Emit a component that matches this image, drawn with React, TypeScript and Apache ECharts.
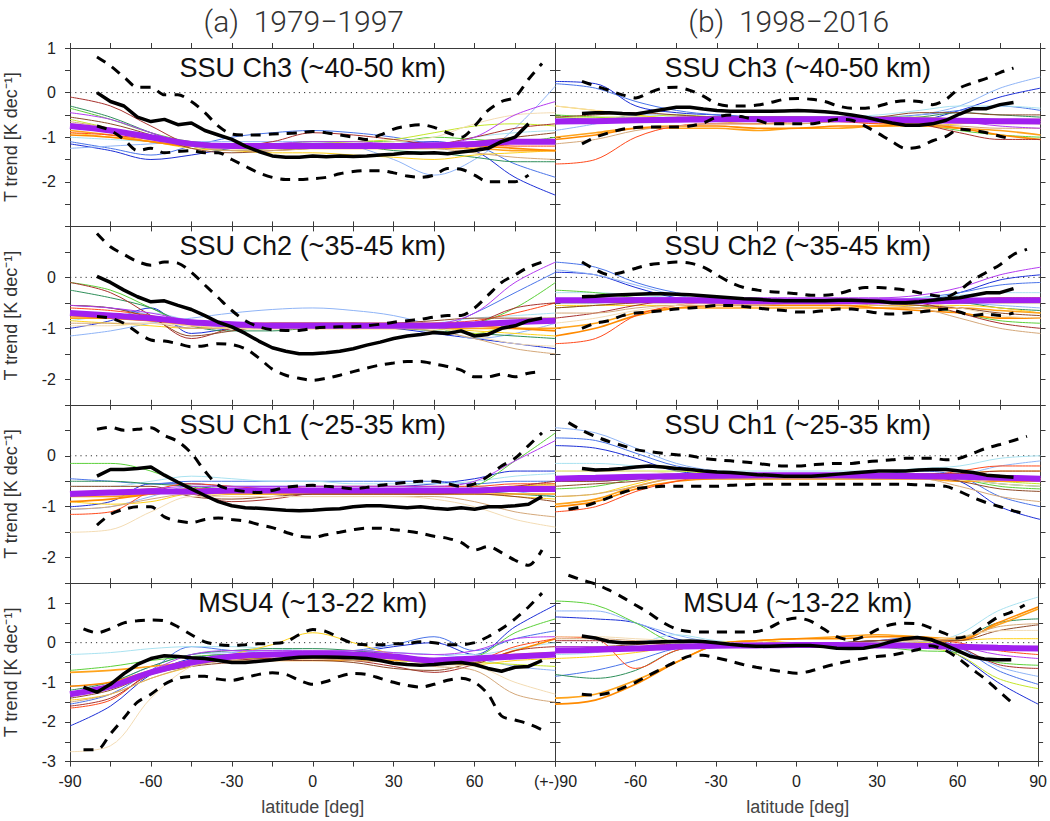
import React, { useEffect, useRef } from 'react';
import * as echarts from 'echarts';

// ---------------- DATA ----------------
const LAT_MODEL = [-90, -75, -60, -45, -30, -15, 0, 15, 30, 45, 60, 75, 90];
const LAT_OBS = [-85, -80, -75, -70, -65, -60, -55, -50, -45, -40, -35, -30, -25, -20, -15, -10, -5, 0, 5, 10, 15, 20, 25, 30, 35, 40, 45, 50, 55, 60, 65, 70, 75, 80, 85];
const X_TICKS = [-90, -60, -30, 0, 30, 60, 90];

const MODEL_COLORS = ['#1c2fd6', '#4a74e8', '#8fb4f6', '#a9e2f0', '#5cd03a', '#2f8f5a', '#c4e62a', '#ffd21a', '#ffa31a', '#ff8a00', '#ff4a1c', '#a8322e', '#8e4a2a', '#d4a87a', '#f3dcb4', '#b43cf0'];
const MODEL_WIDTHS = [1, 1, 1, 1, 1, 1, 1, 1, 1.6, 1.6, 1, 1, 1, 1, 1, 1];

const ROW_TITLES = ['SSU Ch3 (~40-50 km)', 'SSU Ch2 (~35-45 km)', 'SSU Ch1 (~25-35 km)', 'MSU4 (~13-22 km)'];
const ROW_MIN = [-3, -2.5, -2.5, -3];
const ROW_MAX = [1, 1, 1, 1.5];
const COL_TITLES = ['(a)  1979\u22121997', '(b)  1998\u22122016'];

// Panel 1: SSU Ch3, 1979-1997
const P1_MODELS = [
  [-1.15, -1.3, -1.5, -1.4, -1.25, -1.2, -1.2, -1.2, -1.15, -1.1, -1.3, -1.9, -2.3],
  [-1.1, -1.25, -1.4, -1.2, -1.0, -0.9, -0.85, -0.9, -1.0, -1.15, -1.2, -1.6, -1.9],
  [-1.25, -1.2, -1.15, -1.1, -1.1, -1.1, -1.1, -1.2, -1.5, -1.85, -1.5, -0.8, 0.15],
  [-1.0, -1.05, -1.1, -1.15, -1.2, -1.2, -1.25, -1.25, -1.25, -1.2, -1.0, -0.9, -0.85],
  [-0.35, -0.6, -0.9, -1.1, -1.15, -1.15, -1.1, -1.1, -1.1, -1.0, -1.05, -1.1, -1.0],
  [-0.3, -0.55, -0.9, -1.2, -1.3, -1.25, -1.2, -1.2, -1.3, -1.35, -1.45, -1.55, -1.55],
  [-0.6, -0.8, -1.0, -1.2, -1.25, -1.2, -1.15, -1.1, -1.05, -0.9, -0.75, -0.7, -0.75],
  [-0.9, -1.0, -1.1, -1.25, -1.3, -1.35, -1.35, -1.4, -1.45, -1.5, -1.4, -1.35, -1.3],
  [-0.85, -0.95, -1.1, -1.2, -1.25, -1.25, -1.25, -1.25, -1.25, -1.25, -1.25, -1.3, -1.3],
  [-0.95, -1.0, -1.1, -1.2, -1.2, -1.2, -1.2, -1.2, -1.2, -1.2, -1.2, -1.25, -1.3],
  [-0.9, -0.95, -1.05, -1.15, -1.2, -1.2, -1.2, -1.15, -1.15, -1.15, -1.15, -1.2, -1.2],
  [-0.1, -0.3, -0.75, -1.15, -1.2, -1.1, -0.9, -0.95, -1.05, -1.15, -1.0, -0.8, -0.7],
  [-0.55, -0.7, -0.95, -1.25, -1.35, -1.3, -1.25, -1.2, -1.2, -1.2, -1.1, -1.0, -0.9],
  [-0.65, -0.8, -1.0, -1.2, -1.3, -1.3, -1.25, -1.2, -1.2, -1.25, -1.35, -1.45, -1.5],
  [-0.7, -0.8, -1.0, -1.2, -1.25, -1.25, -1.2, -1.15, -1.1, -1.0, -0.7, -0.5, -0.45],
  [-0.45, -0.6, -0.9, -1.15, -1.2, -1.15, -1.1, -1.1, -1.15, -1.15, -1.0, -0.5, -0.2],
];
const P1_MEAN = [-0.75, -0.85, -1.0, -1.15, -1.2, -1.2, -1.2, -1.2, -1.2, -1.18, -1.15, -1.1, -1.1];
const P1_OBS = [null, 0.0, -0.2, -0.3, -0.55, -0.65, -0.6, -0.72, -0.68, -0.85, -0.95, -1.05, -1.2, -1.32, -1.42, -1.45, -1.45, -1.42, -1.44, -1.42, -1.43, -1.42, -1.4, -1.38, -1.35, -1.36, -1.35, -1.37, -1.33, -1.3, -1.25, -1.1, -1.0, -0.7, null];
const P1_HI = [null, 0.8, 0.6, 0.35, 0.12, 0.12, -0.05, -0.05, -0.2, -0.45, -0.75, -0.93, -0.95, -0.95, -0.93, -0.92, -0.9, -0.87, -0.9, -0.95, -1.0, -1.05, -0.95, -0.82, -0.75, -0.72, -0.78, -0.9, -1.0, -0.75, -0.4, -0.2, -0.1, 0.3, 0.65];
const P1_LO = [null, -0.75, -0.85, -1.05, -1.3, -1.25, -1.35, -1.32, -1.3, -1.35, -1.35, -1.5, -1.65, -1.8, -1.9, -1.95, -1.95, -1.93, -1.9, -1.82, -1.77, -1.75, -1.75, -1.8, -1.87, -1.9, -1.85, -1.7, -1.72, -1.85, -2.0, -2.0, -2.0, -1.85, null];

// Panel 2: SSU Ch3, 1998-2016
const P2_MODELS = [
  [0.25, 0.2, -0.3, -0.45, -0.5, -0.55, -0.6, -0.6, -0.6, -0.6, -0.4, -0.1, 0.1],
  [0.2, 0.1, -0.2, -0.4, -0.5, -0.55, -0.55, -0.55, -0.55, -0.5, -0.4, -0.3, -0.4],
  [-0.85, -0.7, -0.5, -0.5, -0.6, -0.65, -0.65, -0.65, -0.6, -0.5, -0.3, 0.1, 0.35],
  [-0.6, -0.6, -0.55, -0.55, -0.55, -0.6, -0.6, -0.55, -0.5, -0.4, -0.3, -0.3, -0.35],
  [-0.5, -0.55, -0.6, -0.6, -0.6, -0.6, -0.6, -0.55, -0.6, -0.7, -0.85, -0.95, -1.0],
  [-0.55, -0.6, -0.6, -0.6, -0.6, -0.6, -0.6, -0.6, -0.6, -0.55, -0.45, -0.5, -0.55],
  [-0.55, -0.55, -0.55, -0.5, -0.55, -0.6, -0.6, -0.6, -0.55, -0.55, -0.6, -0.65, -0.7],
  [-0.3, -0.4, -0.5, -0.6, -0.65, -0.7, -0.7, -0.65, -0.7, -0.75, -0.7, -0.65, -0.65],
  [-1.0, -0.9, -0.8, -0.8, -0.8, -0.85, -0.8, -0.8, -0.75, -0.75, -0.8, -0.85, -0.95],
  [-1.05, -0.95, -0.8, -0.75, -0.75, -0.8, -0.8, -0.75, -0.75, -0.7, -0.8, -0.95, -1.05],
  [-1.6, -1.5, -1.0, -0.75, -0.7, -0.7, -0.65, -0.65, -0.7, -0.7, -0.6, -0.6, -0.6],
  [-0.7, -0.65, -0.6, -0.55, -0.55, -0.55, -0.55, -0.55, -0.6, -0.7, -0.9, -1.05, -1.05],
  [-0.55, -0.5, -0.45, -0.5, -0.55, -0.55, -0.55, -0.6, -0.55, -0.45, -0.45, -0.5, -0.5],
  [-1.15, -1.05, -0.85, -0.75, -0.7, -0.7, -0.7, -0.65, -0.65, -0.7, -0.75, -0.8, -0.8],
  [-0.3, -0.4, -0.55, -0.6, -0.6, -0.6, -0.6, -0.6, -0.6, -0.6, -0.65, -0.7, -0.7],
  [-0.6, -0.6, -0.6, -0.6, -0.6, -0.6, -0.6, -0.6, -0.6, -0.6, -0.65, -0.75, -0.8],
];
const P2_MEAN = [-0.65, -0.64, -0.62, -0.61, -0.6, -0.6, -0.6, -0.6, -0.61, -0.62, -0.63, -0.64, -0.65];
const P2_OBS = [null, -0.47, -0.45, -0.45, -0.47, -0.48, -0.43, -0.38, -0.33, -0.33, -0.37, -0.4, -0.42, -0.42, -0.42, -0.42, -0.41, -0.4, -0.41, -0.43, -0.46, -0.5, -0.55, -0.62, -0.68, -0.73, -0.73, -0.7, -0.62, -0.48, -0.36, -0.36, -0.27, -0.22, null];
const P2_HI = [null, 0.25, 0.15, 0.05, -0.05, -0.12, 0.0, 0.1, 0.12, 0.05, -0.08, -0.25, -0.3, -0.3, -0.28, -0.22, -0.15, -0.13, -0.15, -0.2, -0.3, -0.35, -0.35, -0.3, -0.22, -0.18, -0.2, -0.27, -0.15, 0.1, 0.22, 0.32, 0.45, 0.55, null];
const P2_LO = [null, -1.15, -1.0, -0.9, -0.82, -0.78, -0.77, -0.77, -0.77, -0.75, -0.68, -0.55, -0.5, -0.55, -0.62, -0.7, -0.7, -0.7, -0.7, -0.65, -0.6, -0.62, -0.75, -0.92, -1.1, -1.25, -1.22, -1.08, -0.98, -0.82, -0.85, -0.9, -0.98, -1.05, null];

// Panel 3: SSU Ch2, 1979-1997
const P3_MODELS = [
  [-1.0, -0.85, -0.6, -1.1, -1.0, -0.95, -0.95, -0.95, -1.0, -1.1, -1.2, -1.3, -1.4],
  [-0.55, -0.6, -0.75, -1.0, -0.95, -0.9, -0.9, -0.9, -0.95, -1.0, -0.7, -0.3, 0.1],
  [-1.15, -1.05, -0.9, -0.8, -0.7, -0.63, -0.6, -0.65, -0.75, -0.95, -1.2, -1.1, -0.9],
  [-0.85, -0.75, -0.7, -0.85, -0.95, -1.0, -1.0, -1.0, -0.95, -0.9, -0.8, -0.75, -0.7],
  [-0.1, -0.25, -0.6, -0.95, -1.0, -1.0, -0.95, -0.9, -0.9, -0.95, -0.9, -0.6, -0.1],
  [-0.25, -0.4, -0.6, -0.95, -1.05, -1.05, -1.0, -1.0, -1.0, -1.05, -1.1, -1.15, -1.2],
  [-0.7, -0.75, -0.8, -0.9, -0.95, -0.95, -0.95, -0.95, -0.95, -1.0, -1.1, -0.9, -0.8],
  [-0.85, -0.9, -0.95, -1.0, -1.0, -1.0, -1.0, -1.0, -1.0, -1.0, -1.05, -1.1, -1.15],
  [-0.8, -0.8, -0.85, -0.95, -1.0, -1.0, -1.0, -1.0, -1.0, -1.0, -1.0, -1.0, -1.0],
  [-0.75, -0.8, -0.85, -0.9, -0.9, -0.9, -0.9, -0.9, -0.9, -0.9, -0.95, -1.0, -1.05],
  [-0.6, -0.65, -0.75, -0.9, -0.95, -0.95, -0.95, -0.95, -0.95, -0.9, -0.85, -0.7, -0.5],
  [-0.1, -0.3, -0.75, -1.2, -1.0, -0.9, -0.9, -0.9, -0.95, -1.0, -0.9, -0.6, -0.5],
  [-0.55, -0.6, -0.8, -1.15, -1.05, -0.95, -0.95, -0.95, -0.9, -0.85, -0.8, -0.8, -0.8],
  [-0.9, -0.9, -0.9, -1.0, -1.0, -1.0, -1.0, -1.0, -1.0, -1.05, -1.2, -1.4, -1.5],
  [-0.95, -0.95, -0.9, -0.95, -1.0, -1.0, -1.0, -1.0, -1.0, -1.0, -1.15, -1.3, -1.35],
  [-0.55, -0.6, -0.7, -0.85, -0.9, -0.9, -0.9, -0.9, -0.9, -0.9, -0.7, -0.1, 0.3],
];
const P3_MEAN = [-0.7, -0.75, -0.8, -0.88, -0.92, -0.95, -0.95, -0.95, -0.95, -0.95, -0.92, -0.88, -0.85];
const P3_OBS = [null, 0.02, -0.1, -0.25, -0.38, -0.48, -0.46, -0.55, -0.63, -0.75, -0.88, -0.97, -1.1, -1.25, -1.38, -1.45, -1.5, -1.5, -1.48, -1.45, -1.4, -1.33, -1.27, -1.2, -1.15, -1.12, -1.08, -1.1, -1.05, -1.15, -1.12, -1.0, -0.95, -0.85, -0.8];
const P3_HI = [null, 0.86, 0.6, 0.45, 0.31, 0.24, 0.3, 0.28, 0.1, -0.15, -0.4, -0.65, -0.85, -0.97, -1.03, -1.04, -1.04, -1.0, -0.98, -0.97, -0.97, -0.95, -0.92, -0.88, -0.85, -0.82, -0.78, -0.75, -0.75, -0.6, -0.35, -0.1, 0.05, 0.2, 0.3];
const P3_LO = [null, -0.77, -0.8, -0.9, -1.08, -1.23, -1.25, -1.3, -1.36, -1.34, -1.3, -1.32, -1.4, -1.58, -1.8, -1.92, -1.98, -2.02, -1.98, -1.92, -1.85, -1.78, -1.72, -1.68, -1.65, -1.65, -1.7, -1.75, -1.82, -1.95, -1.95, -1.9, -1.95, -1.88, -1.85];

// Panel 4: SSU Ch2, 1998-2016
const P4_MODELS = [
  [0.1, 0.05, -0.2, -0.4, -0.45, -0.45, -0.45, -0.45, -0.45, -0.45, -0.3, -0.05, 0.05],
  [0.3, 0.2, -0.1, -0.3, -0.4, -0.45, -0.45, -0.45, -0.45, -0.4, -0.3, -0.15, -0.1],
  [0.15, 0.05, -0.15, -0.35, -0.45, -0.5, -0.5, -0.5, -0.5, -0.5, -0.5, -0.55, -0.6],
  [-0.3, -0.3, -0.35, -0.4, -0.45, -0.45, -0.45, -0.45, -0.45, -0.4, -0.35, -0.3, -0.3],
  [-0.25, -0.3, -0.4, -0.45, -0.5, -0.5, -0.5, -0.5, -0.5, -0.55, -0.7, -0.85, -0.9],
  [-0.5, -0.5, -0.45, -0.45, -0.45, -0.45, -0.45, -0.45, -0.45, -0.5, -0.5, -0.6, -0.65],
  [-0.6, -0.55, -0.5, -0.5, -0.5, -0.5, -0.5, -0.5, -0.5, -0.45, -0.45, -0.5, -0.5],
  [-0.55, -0.55, -0.55, -0.55, -0.55, -0.55, -0.55, -0.55, -0.55, -0.55, -0.55, -0.6, -0.7],
  [-1.0, -0.9, -0.7, -0.6, -0.6, -0.6, -0.6, -0.6, -0.6, -0.6, -0.6, -0.65, -0.7],
  [-1.15, -1.0, -0.75, -0.6, -0.55, -0.55, -0.55, -0.55, -0.6, -0.65, -0.7, -0.8, -0.8],
  [-1.3, -1.2, -0.75, -0.55, -0.5, -0.5, -0.5, -0.5, -0.5, -0.5, -0.45, -0.4, -0.4],
  [-0.8, -0.7, -0.55, -0.45, -0.45, -0.45, -0.45, -0.45, -0.45, -0.5, -0.7, -0.9, -1.0],
  [-0.6, -0.55, -0.5, -0.45, -0.45, -0.45, -0.45, -0.45, -0.5, -0.55, -0.6, -0.7, -0.75],
  [-0.7, -0.7, -0.6, -0.55, -0.55, -0.55, -0.5, -0.5, -0.55, -0.6, -0.8, -1.0, -1.1],
  [-0.9, -0.8, -0.65, -0.55, -0.5, -0.5, -0.5, -0.5, -0.5, -0.5, -0.6, -0.75, -0.8],
  [-0.5, -0.45, -0.4, -0.4, -0.4, -0.4, -0.4, -0.4, -0.4, -0.35, -0.2, 0.05, 0.2],
];
const P4_MEAN = [-0.45, -0.45, -0.45, -0.45, -0.46, -0.47, -0.47, -0.47, -0.47, -0.47, -0.46, -0.45, -0.45];
const P4_OBS = [null, -0.38, -0.37, -0.35, -0.34, -0.33, -0.32, -0.32, -0.33, -0.34, -0.36, -0.38, -0.4, -0.42, -0.43, -0.45, -0.46, -0.46, -0.46, -0.46, -0.45, -0.45, -0.46, -0.47, -0.5, -0.5, -0.48, -0.45, -0.42, -0.4, -0.35, -0.3, -0.3, -0.22, null];
const P4_HI = [null, 0.3, 0.15, 0.05, 0.1, 0.18, 0.25, 0.28, 0.3, 0.28, 0.2, 0.05, -0.1, -0.2, -0.25, -0.28, -0.3, -0.32, -0.35, -0.35, -0.32, -0.25, -0.2, -0.2, -0.22, -0.25, -0.3, -0.35, -0.38, -0.25, -0.05, 0.1, 0.25, 0.45, 0.55];
const P4_LO = [null, -1.0, -0.9, -0.85, -0.75, -0.7, -0.68, -0.65, -0.62, -0.6, -0.58, -0.55, -0.55, -0.57, -0.6, -0.63, -0.65, -0.68, -0.68, -0.65, -0.62, -0.62, -0.66, -0.7, -0.72, -0.7, -0.68, -0.65, -0.62, -0.68, -0.75, -0.72, -0.75, -0.7, null];

// Panel 5: SSU Ch1, 1979-1997
const P5_MODELS = [
  [-1.0, -0.9, -0.55, -0.55, -0.6, -0.6, -0.6, -0.6, -0.6, -0.55, -0.45, -0.3, -0.3],
  [-0.45, -0.5, -0.55, -0.5, -0.5, -0.5, -0.5, -0.5, -0.5, -0.5, -0.55, -0.5, -0.5],
  [-1.05, -1.0, -0.8, -0.6, -0.6, -0.65, -0.65, -0.65, -0.65, -0.6, -0.6, -0.7, -0.8],
  [-0.6, -0.6, -0.5, -0.4, -0.45, -0.5, -0.5, -0.55, -0.55, -0.55, -0.5, -0.4, -0.35],
  [-0.15, -0.15, -0.3, -0.6, -0.75, -0.75, -0.75, -0.75, -0.7, -0.7, -0.6, -0.1, 0.45],
  [-0.5, -0.5, -0.55, -0.6, -0.65, -0.65, -0.65, -0.7, -0.7, -0.7, -0.7, -0.75, -0.8],
  [-0.8, -0.8, -0.75, -0.7, -0.7, -0.7, -0.7, -0.7, -0.7, -0.7, -0.65, -0.6, -0.55],
  [-0.9, -0.95, -0.9, -0.75, -0.75, -0.75, -0.75, -0.75, -0.75, -0.75, -0.75, -0.8, -0.85],
  [-0.8, -0.8, -0.75, -0.7, -0.75, -0.75, -0.75, -0.75, -0.75, -0.75, -0.75, -0.75, -0.75],
  [-0.9, -0.85, -0.75, -0.65, -0.65, -0.65, -0.65, -0.65, -0.65, -0.65, -0.65, -0.6, -0.6],
  [-1.15, -1.1, -0.7, -0.55, -0.6, -0.65, -0.6, -0.6, -0.6, -0.6, -0.6, -0.55, -0.55],
  [-0.7, -0.7, -0.65, -0.75, -0.9, -0.85, -0.75, -0.75, -0.75, -0.75, -0.7, -0.6, -0.5],
  [-0.6, -0.6, -0.6, -0.8, -0.85, -0.8, -0.75, -0.75, -0.75, -0.75, -0.75, -0.8, -0.9],
  [-1.05, -1.0, -0.85, -0.75, -0.8, -0.8, -0.8, -0.8, -0.8, -0.8, -0.9, -1.1, -1.2],
  [-1.5, -1.45, -1.1, -0.8, -0.8, -0.8, -0.8, -0.8, -0.8, -0.85, -1.0, -1.25, -1.4],
  [-0.7, -0.7, -0.65, -0.6, -0.6, -0.6, -0.6, -0.6, -0.6, -0.6, -0.5, -0.1, 0.3],
];
const P5_MEAN = [-0.75, -0.72, -0.7, -0.7, -0.68, -0.68, -0.68, -0.68, -0.68, -0.68, -0.68, -0.65, -0.65];
const P5_OBS = [null, -0.4, -0.27, -0.27, -0.25, -0.22, -0.38, -0.52, -0.65, -0.78, -0.9, -0.98, -1.02, -1.03, -1.05, -1.07, -1.08, -1.07, -1.05, -1.04, -1.0, -0.98, -0.98, -1.0, -1.02, -1.0, -1.03, -1.05, -1.02, -1.05, -1.0, -1.0, -0.98, -0.95, -0.8];
const P5_HI = [null, 0.52, 0.56, 0.5, 0.52, 0.55, 0.4, 0.28, 0.05, -0.3, -0.58, -0.66, -0.7, -0.72, -0.68, -0.62, -0.59, -0.58, -0.6, -0.62, -0.65, -0.62, -0.58, -0.55, -0.52, -0.5, -0.5, -0.55, -0.6, -0.55, -0.4, -0.2, -0.05, 0.2, 0.45];
const P5_LO = [null, -1.36, -1.15, -1.05, -1.0, -1.0, -1.2, -1.28, -1.31, -1.25, -1.22, -1.25, -1.28, -1.35, -1.41, -1.5, -1.58, -1.6, -1.55, -1.5, -1.45, -1.42, -1.42, -1.45, -1.48, -1.52, -1.58, -1.62, -1.7, -1.85, -1.78, -1.9, -2.05, -2.15, -1.85];

// Panel 6: SSU Ch1, 1998-2016
const P6_MODELS = [
  [0.2, 0.15, -0.05, -0.3, -0.35, -0.35, -0.35, -0.35, -0.35, -0.35, -0.5, -1.0, -1.25],
  [0.35, 0.3, 0.05, -0.2, -0.3, -0.35, -0.35, -0.35, -0.35, -0.3, -0.4, -0.8, -1.0],
  [0.55, 0.45, 0.15, -0.15, -0.3, -0.35, -0.35, -0.35, -0.35, -0.35, -0.35, -0.2, -0.1],
  [-0.15, -0.15, -0.2, -0.25, -0.3, -0.3, -0.3, -0.3, -0.3, -0.25, -0.2, -0.05, 0.0],
  [-0.65, -0.6, -0.45, -0.35, -0.35, -0.35, -0.35, -0.35, -0.35, -0.35, -0.45, -0.6, -0.65],
  [-0.5, -0.5, -0.45, -0.4, -0.4, -0.4, -0.4, -0.4, -0.4, -0.4, -0.45, -0.55, -0.6],
  [-0.3, -0.3, -0.3, -0.3, -0.35, -0.35, -0.35, -0.35, -0.35, -0.35, -0.4, -0.5, -0.55],
  [-0.8, -0.75, -0.55, -0.4, -0.4, -0.4, -0.4, -0.4, -0.4, -0.4, -0.35, -0.3, -0.3],
  [-0.95, -0.85, -0.6, -0.45, -0.45, -0.45, -0.45, -0.45, -0.45, -0.45, -0.5, -0.5, -0.5],
  [-1.0, -0.9, -0.65, -0.5, -0.45, -0.45, -0.45, -0.45, -0.45, -0.45, -0.45, -0.45, -0.45],
  [-1.1, -1.0, -0.7, -0.5, -0.4, -0.4, -0.4, -0.4, -0.4, -0.4, -0.3, -0.2, -0.2],
  [-0.5, -0.5, -0.45, -0.4, -0.4, -0.4, -0.4, -0.4, -0.4, -0.35, -0.35, -0.3, -0.3],
  [-0.6, -0.55, -0.5, -0.4, -0.4, -0.4, -0.4, -0.4, -0.4, -0.4, -0.5, -0.65, -0.7],
  [-0.8, -0.75, -0.6, -0.45, -0.45, -0.45, -0.45, -0.45, -0.45, -0.45, -0.6, -0.8, -0.9],
  [-0.3, -0.3, -0.3, -0.35, -0.4, -0.4, -0.4, -0.4, -0.4, -0.4, -0.45, -0.55, -0.6],
  [-0.45, -0.45, -0.4, -0.35, -0.35, -0.35, -0.35, -0.35, -0.35, -0.35, -0.4, -0.45, -0.5],
];
const P6_MEAN = [-0.45, -0.43, -0.41, -0.4, -0.39, -0.38, -0.38, -0.38, -0.39, -0.4, -0.41, -0.43, -0.45];
const P6_OBS = [null, -0.25, -0.28, -0.27, -0.25, -0.22, -0.2, -0.22, -0.25, -0.27, -0.3, -0.32, -0.33, -0.35, -0.37, -0.38, -0.4, -0.4, -0.4, -0.38, -0.36, -0.34, -0.32, -0.3, -0.3, -0.3, -0.28, -0.27, -0.27, -0.3, -0.33, -0.38, -0.4, -0.42, null];
const P6_HI = [0.65, 0.5, 0.38, 0.28, 0.2, 0.12, 0.08, 0.05, 0.02, 0.0, -0.05, -0.08, -0.1, -0.12, -0.15, -0.18, -0.2, -0.2, -0.18, -0.16, -0.15, -0.15, -0.12, -0.1, -0.08, -0.05, -0.05, -0.05, -0.08, -0.05, 0.05, 0.15, 0.22, 0.3, 0.38];
const P6_LO = [-1.05, -1.0, -0.92, -0.82, -0.72, -0.65, -0.62, -0.6, -0.6, -0.6, -0.6, -0.6, -0.58, -0.57, -0.56, -0.56, -0.56, -0.56, -0.56, -0.56, -0.56, -0.56, -0.56, -0.56, -0.56, -0.56, -0.57, -0.58, -0.6, -0.7, -0.82, -0.92, -1.0, -1.08, -1.15];

// Panel 7: MSU4, 1979-1997
const P7_MODELS = [
  [-2.1, -1.6, -0.8, -0.4, -0.3, -0.3, -0.3, -0.25, -0.1, 0.0, -0.3, 0.4, 0.95],
  [-1.55, -1.3, -0.7, -0.1, -0.2, -0.25, -0.25, -0.2, -0.05, 0.15, -0.2, 0.1, 0.3],
  [-1.1, -1.0, -0.6, -0.3, -0.25, -0.2, -0.2, -0.2, -0.25, -0.3, -0.4, -0.6, -0.7],
  [-0.3, -0.25, -0.15, -0.1, -0.1, -0.15, -0.2, -0.2, -0.25, -0.3, -0.3, -0.15, 0.0],
  [-0.7, -0.6, -0.45, -0.35, -0.3, -0.3, -0.3, -0.3, -0.35, -0.4, -0.35, 0.25, 0.6],
  [-1.2, -1.0, -0.6, -0.3, -0.2, -0.15, -0.15, -0.2, -0.3, -0.4, -0.4, -0.3, -0.3],
  [-1.3, -1.1, -0.7, -0.45, -0.4, -0.4, -0.4, -0.4, -0.45, -0.5, -0.5, -0.55, -0.6],
  [-1.45, -1.3, -0.9, -0.6, -0.3, -0.05, 0.25, 0.0, -0.3, -0.5, -0.55, -0.45, -0.4],
  [-0.75, -0.7, -0.6, -0.5, -0.45, -0.45, -0.45, -0.45, -0.45, -0.45, -0.4, -0.3, -0.25],
  [-1.1, -1.0, -0.7, -0.5, -0.4, -0.35, -0.35, -0.35, -0.4, -0.45, -0.45, -0.2, 0.1],
  [-1.65, -1.45, -0.75, -0.45, -0.4, -0.35, -0.35, -0.35, -0.4, -0.5, -0.45, -0.1, 0.1],
  [-1.6, -1.4, -0.8, -0.55, -0.45, -0.4, -0.4, -0.45, -0.6, -0.75, -0.55, -0.2, -0.1],
  [-1.4, -1.2, -0.8, -0.6, -0.5, -0.45, -0.45, -0.5, -0.65, -0.7, -0.5, -0.3, -0.3],
  [-1.5, -1.3, -0.9, -0.6, -0.45, -0.45, -0.4, -0.45, -0.5, -0.6, -0.7, -1.3, -1.5],
  [-2.75, -2.6, -1.4, -0.6, -0.4, -0.35, -0.35, -0.4, -0.5, -0.55, -0.6, -1.0, -1.3],
  [-1.25, -1.1, -0.7, -0.3, -0.2, -0.2, -0.2, -0.2, -0.25, -0.3, -0.2, 0.1, 0.15],
];
const P7_MEAN = [-1.3, -1.1, -0.75, -0.5, -0.35, -0.3, -0.28, -0.3, -0.35, -0.45, -0.4, -0.35, -0.3];
const P7_OBS = [-1.12, -1.25, -1.05, -0.78, -0.55, -0.4, -0.33, -0.35, -0.38, -0.4, -0.45, -0.5, -0.5, -0.47, -0.44, -0.4, -0.37, -0.36, -0.36, -0.37, -0.38, -0.4, -0.45, -0.52, -0.55, -0.57, -0.55, -0.52, -0.5, -0.55, -0.65, -0.72, -0.62, -0.6, -0.45];
const P7_HI = [0.35, 0.25, 0.35, 0.5, 0.55, 0.57, 0.55, 0.4, 0.2, 0.02, -0.05, -0.07, -0.05, -0.03, -0.02, 0.02, 0.2, 0.33, 0.28, 0.12, -0.02, -0.05, -0.05, -0.03, -0.02, 0.02, 0.0, -0.05, -0.05, 0.0, 0.15, 0.35, 0.6, 0.9, 1.25];
const P7_LO = [-2.7, -2.7, -2.3, -1.9, -1.5, -1.3, -1.05, -0.9, -0.85, -0.85, -0.92, -0.95, -0.88, -0.8, -0.76, -0.8, -0.95, -1.05, -0.98, -0.85, -0.78, -0.8, -0.9, -1.0, -1.08, -1.12, -1.05, -0.95, -0.9, -1.0, -1.3, -1.85, -1.95, -2.05, -2.2];

// Panel 8: MSU4, 1998-2016
const P8_MODELS = [
  [0.65, 0.6, 0.5, 0.1, -0.05, -0.05, 0.0, 0.0, 0.05, 0.1, -0.3, -1.0, -1.55],
  [-0.85, -0.7, -0.45, -0.15, -0.05, 0.0, 0.0, 0.0, 0.05, 0.15, -0.1, -0.7, -1.05],
  [0.8, 0.8, 0.5, 0.2, 0.0, -0.05, -0.05, -0.05, 0.0, 0.05, -0.1, -0.6, -0.85],
  [-0.3, -0.25, -0.05, 0.2, 0.05, 0.0, 0.0, 0.0, 0.0, 0.0, 0.2, 0.8, 1.15],
  [1.05, 0.95, 0.5, 0.0, -0.05, -0.05, -0.05, -0.05, -0.1, -0.2, -0.25, -0.5, -0.57],
  [-0.8, -0.9, -0.7, -0.2, -0.05, 0.0, 0.0, 0.0, 0.05, 0.05, 0.1, 0.5, 0.6],
  [-0.2, -0.2, -0.15, -0.1, -0.05, 0.0, 0.0, 0.0, -0.05, -0.1, -0.3, -0.9, -1.16],
  [-0.4, -0.35, -0.25, -0.1, 0.0, 0.05, 0.0, 0.0, -0.05, 0.0, 0.05, 0.1, 0.1],
  [-1.4, -1.3, -0.95, -0.5, -0.05, 0.05, 0.1, 0.15, 0.2, 0.15, 0.1, 0.45, 0.85],
  [-1.55, -1.45, -1.05, -0.5, -0.05, 0.05, 0.1, 0.1, 0.15, 0.15, 0.05, 0.5, 0.9],
  [0.15, 0.1, -0.65, -0.2, -0.05, -0.05, -0.1, -0.1, -0.05, 0.1, 0.0, -0.2, -0.3],
  [0.05, 0.05, 0.0, -0.05, -0.05, -0.05, 0.0, 0.0, 0.05, 0.1, -0.1, -0.55, -0.65],
  [-0.1, -0.1, -0.05, 0.0, 0.0, 0.0, 0.0, 0.0, 0.05, 0.05, 0.05, 0.3, 0.45],
  [0.1, 0.1, 0.05, 0.0, 0.0, 0.0, 0.0, 0.0, 0.0, 0.05, 0.1, 0.4, 0.48],
  [0.15, 0.15, 0.1, 0.05, 0.0, 0.0, 0.0, 0.0, 0.0, 0.05, 0.15, 0.3, 0.31],
  [-0.1, -0.1, -0.1, -0.1, -0.05, -0.05, -0.05, -0.05, -0.05, -0.05, -0.1, -0.3, -0.4],
];
const P8_MEAN = [-0.2, -0.18, -0.15, -0.1, -0.08, -0.07, -0.06, -0.06, -0.07, -0.08, -0.1, -0.13, -0.15];
const P8_OBS = [null, 0.17, 0.12, 0.03, 0.0, 0.0, 0.01, 0.02, 0.03, 0.04, 0.03, 0.0, -0.04, -0.07, -0.09, -0.09, -0.08, -0.07, -0.07, -0.1, -0.14, -0.15, -0.14, -0.08, 0.02, 0.1, 0.13, 0.08, -0.05, -0.2, -0.35, -0.41, -0.43, -0.43, null];
const P8_HI = [1.7, 1.58, 1.48, 1.33, 1.15, 0.95, 0.75, 0.52, 0.35, 0.28, 0.27, 0.27, 0.27, 0.27, 0.28, 0.38, 0.55, 0.62, 0.55, 0.35, 0.15, 0.07, 0.15, 0.33, 0.45, 0.49, 0.48, 0.37, 0.24, 0.12, 0.2, 0.42, 0.64, 0.77, 0.95];
const P8_LO = [null, -1.3, -1.32, -1.27, -1.15, -1.0, -0.82, -0.65, -0.48, -0.34, -0.32, -0.38, -0.46, -0.55, -0.62, -0.68, -0.73, -0.77, -0.72, -0.62, -0.53, -0.46, -0.4, -0.35, -0.32, -0.25, -0.18, -0.08, -0.18, -0.38, -0.65, -0.9, -1.2, -1.5, null];

const PANELS = [
  { models: P1_MODELS, mean: P1_MEAN, obs: P1_OBS, hi: P1_HI, lo: P1_LO },
  { models: P2_MODELS, mean: P2_MEAN, obs: P2_OBS, hi: P2_HI, lo: P2_LO },
  { models: P3_MODELS, mean: P3_MEAN, obs: P3_OBS, hi: P3_HI, lo: P3_LO },
  { models: P4_MODELS, mean: P4_MEAN, obs: P4_OBS, hi: P4_HI, lo: P4_LO },
  { models: P5_MODELS, mean: P5_MEAN, obs: P5_OBS, hi: P5_HI, lo: P5_LO },
  { models: P6_MODELS, mean: P6_MEAN, obs: P6_OBS, hi: P6_HI, lo: P6_LO },
  { models: P7_MODELS, mean: P7_MEAN, obs: P7_OBS, hi: P7_HI, lo: P7_LO },
  { models: P8_MODELS, mean: P8_MEAN, obs: P8_OBS, hi: P8_HI, lo: P8_LO },
];

// ---------------- LAYOUT ----------------
const ROW_TOP = [48, 226.4, 404.8, 583.2];
const ROW_H = 178.4;
const COL_LEFT = [70, 555];
const COL_W = 485.5;
const AXIS_COLOR = '#3a3a3a';
const FONT = 'Liberation Sans, Arial, Helvetica, sans-serif';

function pairs(xs: number[], ys: (number | null)[]) {
  const out: number[][] = [];
  xs.forEach((x, i) => {
    const v = ys[i];
    if (v !== null && v !== undefined) out.push([x, v]);
  });
  return out;
}

function buildOption() {
  const grid: any[] = [];
  const xAxis: any[] = [];
  const yAxis: any[] = [];
  const series: any[] = [];
  const graphic: any[] = [];

  PANELS.forEach((p, i) => {
    const r = Math.floor(i / 2);
    const c = i % 2;
    grid.push({ left: COL_LEFT[c], top: ROW_TOP[r], width: COL_W, height: ROW_H, containLabel: false });
    const tick = { show: true, inside: false, length: 5, lineStyle: { color: AXIS_COLOR, width: 1 } };
    const line = { show: true, onZero: false, lineStyle: { color: AXIS_COLOR, width: 1 } };
    const isBottom = r === 3;
    xAxis.push({
      type: 'value', gridIndex: i, min: -90, max: 90, interval: 15, position: 'bottom',
      axisLine: line, axisTick: tick, splitLine: { show: false },
      axisLabel: {
        show: isBottom, margin: 12, fontSize: 16, fontFamily: FONT, color: '#222',
        showMinLabel: true, showMaxLabel: true,
        formatter: (v: number) => {
          if (!X_TICKS.includes(v)) return '';
          if (c === 0) return v === 90 ? '(+-)90' : String(v);
          return v === -90 ? '' : String(v);
        },
      },
    });
    xAxis.push({
      type: 'value', gridIndex: i, min: -90, max: 90, interval: 15, position: 'top',
      axisLine: line, axisTick: tick, splitLine: { show: false }, axisLabel: { show: false },
    });
    const yMin = ROW_MIN[r];
    const yMax = ROW_MAX[r];
    yAxis.push({
      type: 'value', gridIndex: i, min: yMin, max: yMax, interval: 0.5, position: 'left',
      axisLine: line, axisTick: tick, splitLine: { show: false },
      name: c === 0 ? 'T trend [K dec\u207B\u00B9]' : '',
      nameLocation: 'middle', nameGap: 50,
      nameTextStyle: { fontSize: 18, fontFamily: FONT, color: '#333' },
      axisLabel: {
        show: c === 0, margin: 14, fontSize: 16, fontFamily: FONT, color: '#222',
        showMinLabel: true, showMaxLabel: true,
        formatter: (v: number) => {
          if (Math.abs(v - Math.round(v)) > 1e-6) return '';
          if ((r === 1 || r === 2) && v === yMax) return '';
          if (r < 3 && v === -3) return '';
          return String(Math.round(v));
        },
      },
    });
    yAxis.push({
      type: 'value', gridIndex: i, min: yMin, max: yMax, interval: 0.5, position: 'right',
      axisLine: line, axisTick: tick, splitLine: { show: false }, axisLabel: { show: false },
    });

    const xi = 2 * i;
    const yi = 2 * i;
    series.push({
      type: 'line', xAxisIndex: xi, yAxisIndex: yi, data: [[-90, 0], [90, 0]], symbol: 'none', silent: true,
      lineStyle: { color: '#333', width: 1, type: [1.2, 4] }, z: 1,
    });
    p.models.forEach((m, k) => {
      series.push({
        type: 'line', xAxisIndex: xi, yAxisIndex: yi, data: pairs(LAT_MODEL, m), symbol: 'none', smooth: 0.35,
        lineStyle: { color: MODEL_COLORS[k], width: MODEL_WIDTHS[k] }, z: 2, silent: true,
      });
    });
    series.push({
      type: 'line', xAxisIndex: xi, yAxisIndex: yi, data: pairs(LAT_MODEL, p.mean), symbol: 'none', smooth: 0.35,
      lineStyle: { color: '#a020f0', width: 6 }, z: 3, silent: true,
    });
    series.push({
      type: 'line', xAxisIndex: xi, yAxisIndex: yi, data: pairs(LAT_OBS, p.obs), symbol: 'none',
      lineStyle: { color: '#000', width: 3.5 }, z: 4, silent: true,
    });
    [p.hi, p.lo].forEach((d) => {
      series.push({
        type: 'line', xAxisIndex: xi, yAxisIndex: yi, data: pairs(LAT_OBS, d), symbol: 'none', smooth: 0.3,
        lineStyle: { color: '#000', width: 3, type: [10, 8] }, z: 4, silent: true, clip: false,
      });
    });

    graphic.push({
      type: 'text', x: COL_LEFT[c] + COL_W / 2, y: ROW_TOP[r] + 20, z: 100,
      style: { text: ROW_TITLES[r], fontSize: 27, fontFamily: FONT, fill: '#111', align: 'center', verticalAlign: 'middle', textAlign: 'center', textVerticalAlign: 'middle' },
    });
  });

  [0, 1].forEach((c) => {
    graphic.push({
      type: 'text', x: COL_LEFT[c] + COL_W / 2 - 9, y: 21, z: 100,
      style: { text: COL_TITLES[c], fontSize: 30, fontWeight: 300, fontFamily: 'Roboto, Open Sans, sans-serif', fill: '#333', align: 'center', verticalAlign: 'middle', textAlign: 'center', textVerticalAlign: 'middle' },
    });
    graphic.push({
      type: 'text', x: COL_LEFT[c] + COL_W / 2, y: 807, z: 100,
      style: { text: 'latitude [deg]', fontSize: 18, fontFamily: FONT, fill: '#444', align: 'center', verticalAlign: 'middle', textAlign: 'center', textVerticalAlign: 'middle' },
    });
  });

  return { animation: false, backgroundColor: '#fff', grid, xAxis, yAxis, series, graphic };
}

export default function App() {
  const ref = useRef<HTMLDivElement>(null);
  useEffect(() => {
    document.body.style.margin = '0';
    if (!ref.current) return;
    const chart = echarts.init(ref.current, undefined, { renderer: 'svg' });
    chart.setOption(buildOption() as any);
    return () => chart.dispose();
  }, []);
  return <div ref={ref} style={{ width: 1050, height: 821 }} />;
}
